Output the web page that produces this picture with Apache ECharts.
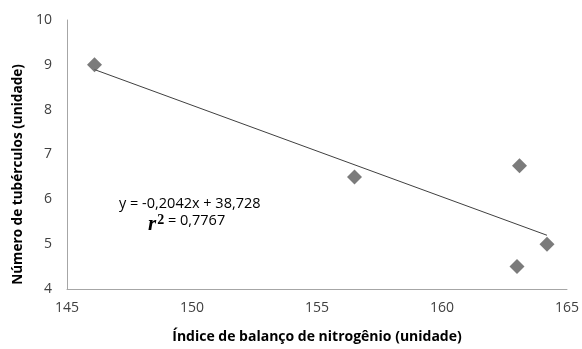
<!DOCTYPE html>
<html>
<head>
<meta charset="utf-8">
<script src="https://cdn.jsdelivr.net/npm/echarts@6/dist/echarts.min.js"></script>
<style>
  html, body { margin: 0; padding: 0; background: #fff; }
  #chart { width: 582px; height: 349px; }
</style>
</head>
<body>
<div id="chart"></div>
<script>
// Nitrogen balance index vs. number of tubers
const nitrogenIndex = [146.1, 156.5, 163.1, 163.0, 164.2];
const tuberCount = [9.0, 6.5, 6.75, 4.5, 5.0];

// Linear fit as reported: y = -0.2042x + 38.728, r² = 0.7767
const fitSlope = -0.2042;
const fitIntercept = 38.728;
const fitR2 = 0.7767;

const xTicks = [145, 150, 155, 160, 165];
const yTicks = [4, 5, 6, 7, 8, 9, 10];

const fmt = (v, d) => v.toFixed(d).replace('.', ',');

const xMinData = Math.min(...nitrogenIndex);
const xMaxData = Math.max(...nitrogenIndex);
const fitLine = [xMinData, xMaxData].map(x => [x, fitSlope * x + fitIntercept]);

const font = '"Open Sans", "Liberation Sans", sans-serif';

const chart = echarts.init(document.getElementById('chart'), null, { renderer: 'canvas' });
chart.setOption({
  animation: false,
  backgroundColor: '#ffffff',
  grid: { left: 67, right: 14, top: 20, bottom: 59 },
  xAxis: {
    type: 'value',
    min: xTicks[0],
    max: xTicks[xTicks.length - 1],
    interval: 5,
    name: 'Índice de balanço de nitrogênio (unidade)',
    nameLocation: 'middle',
    nameGap: 41,
    nameTextStyle: { fontFamily: font, fontWeight: 'bold', fontSize: 14, color: '#000' },
    axisLine: { lineStyle: { color: '#a6a6a6', width: 1 } },
    axisTick: { show: false },
    axisLabel: { fontFamily: font, fontSize: 14, color: '#404040', margin: 12 },
    splitLine: { show: false }
  },
  yAxis: {
    type: 'value',
    min: yTicks[0],
    max: yTicks[yTicks.length - 1],
    interval: 1,
    name: 'Número de tubérculos (unidade)',
    nameLocation: 'middle',
    nameGap: 41,
    nameTextStyle: {
      fontFamily: font, fontWeight: 'bold', fontSize: 13.6, color: '#000',
      padding: [0, 40, 0, 0]
    },
    axisLine: { show: true, lineStyle: { color: '#a6a6a6', width: 1 } },
    axisTick: { show: false },
    axisLabel: { fontFamily: font, fontSize: 14, color: '#404040', margin: 15 },
    splitLine: { show: false }
  },
  series: [
    {
      type: 'line',
      data: fitLine,
      symbol: 'none',
      lineStyle: { color: '#404040', width: 1 },
      z: 2
    },
    {
      type: 'scatter',
      data: nitrogenIndex.map((x, i) => [x, tuberCount[i]]),
      symbol: 'diamond',
      symbolSize: [15, 15],
      itemStyle: { color: '#5a5a5a' },
      z: 3
    }
  ],
  graphic: [
    {
      type: 'text',
      left: 119,
      top: 196,
      style: {
        text: 'y = ' + fmt(fitSlope, 4) + 'x + ' + fmt(fitIntercept, 3),
        font: '14.5px ' + font,
        fill: '#000'
      }
    },
    {
      type: 'text',
      left: 148,
      top: 213,
      style: {
        text: '{r|r}{s|2}{t| = ' + fmt(fitR2, 4) + '}',
        rich: {
          r: { font: 'italic bold 21px "Liberation Serif", serif', fill: '#000', verticalAlign: 'bottom' },
          s: { font: 'bold 14px "Liberation Serif", serif', fill: '#000', verticalAlign: 'top', padding: [0, 0, 8, 1] },
          t: { font: '14.5px ' + font, fill: '#000', padding: [0, 0, 6, 0] }
        }
      }
    }
  ]
});
</script>
</body>
</html>
